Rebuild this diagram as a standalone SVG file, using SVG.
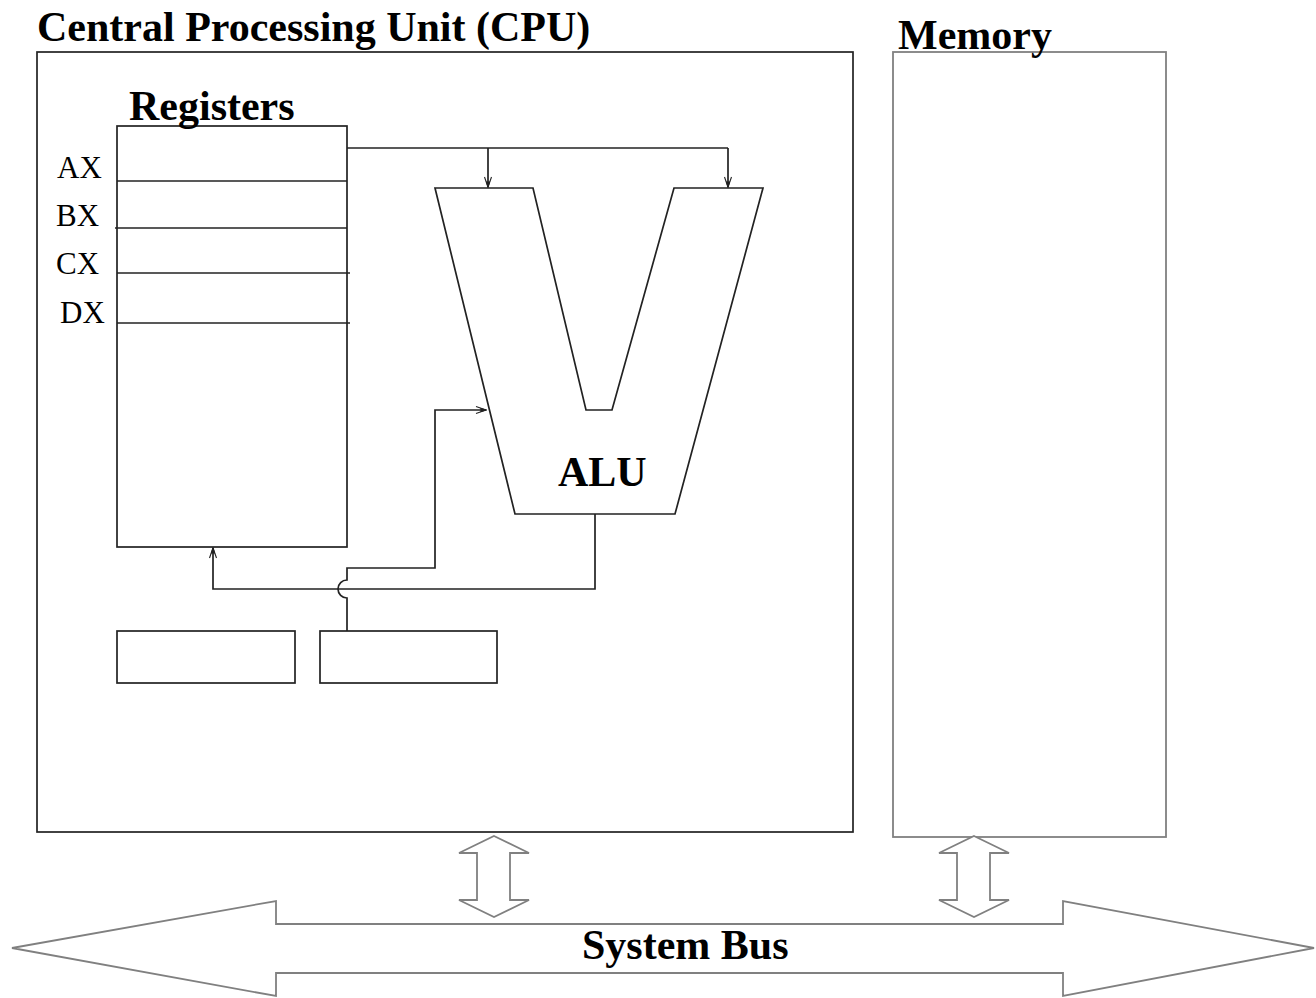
<svg xmlns="http://www.w3.org/2000/svg" width="1316" height="998" viewBox="0 0 1316 998">
  <style>
    .title { font-family: "Liberation Serif", "Times New Roman", serif; font-weight: bold; font-size: 42px; fill: #000; }
    .reg { font-family: "Liberation Serif", "Times New Roman", serif; font-size: 31px; fill: #000; }
    .line { fill: none; stroke: #222; stroke-width: 1.7; }
    .box { fill: #fff; stroke: #222; stroke-width: 1.7; }
    .gray { fill: #fff; stroke: #808080; stroke-width: 1.8; }
  </style>
  <defs>
    <marker id="arrow" viewBox="-11 -5 12 10" refX="0" refY="0" markerWidth="12" markerHeight="10" markerUnits="userSpaceOnUse" orient="auto">
      <path d="M-10,-3.5 L0,0 L-10,3.5" fill="none" stroke="#222" stroke-width="1.1"/>
      <path d="M-5,-1.5 L0,0 L-5,1.5 Z" fill="#222" stroke="#222" stroke-width="1.2"/>
    </marker>
  </defs>

  <!-- CPU enclosure -->
  <g id="cpu">
    <rect class="box" x="37" y="52" width="816" height="780"/>
    <text class="title" x="37" y="41">Central Processing Unit (CPU)</text>
  </g>

  <!-- Memory -->
  <g id="memory">
    <rect class="gray" x="893" y="52" width="273" height="785"/>
    <text class="title" x="898" y="49">Memory</text>
  </g>

  <!-- Register file -->
  <g id="registers">
    <rect class="box" x="117" y="126" width="230" height="421"/>
    <line class="line" x1="117" y1="181" x2="347" y2="181"/>
    <line class="line" x1="115" y1="228" x2="347" y2="228"/>
    <line class="line" x1="117" y1="273" x2="350" y2="273"/>
    <line class="line" x1="117" y1="323" x2="350" y2="323"/>
    <text class="title" x="129" y="120">Registers</text>
    <text class="reg" x="57" y="178">AX</text>
    <text class="reg" x="56" y="226">BX</text>
    <text class="reg" x="56" y="274">CX</text>
    <text class="reg" x="60" y="323">DX</text>
  </g>

  <!-- ALU -->
  <g id="alu">
    <polygon class="box" points="435,188 533,188 586,410 612,410 674,188 763,188 675,514 515,514"/>
    <text class="title" x="558" y="486">ALU</text>
  </g>

  <!-- Auxiliary registers -->
  <g id="box1">
    <rect class="box" x="117" y="631" width="178" height="52"/>
  </g>
  <g id="box2">
    <rect class="box" x="320" y="631" width="177" height="52"/>
  </g>

  <!-- Internal data paths -->
  <g id="connectors">
    <path class="line" d="M347,148 H728"/>
    <path class="line" d="M488,148 V187" marker-end="url(#arrow)"/>
    <path class="line" d="M728,148 V187" marker-end="url(#arrow)"/>
    <path class="line" d="M347,631 V598 A9,9 0 0 1 347,580 V568 H435 V410 H486" marker-end="url(#arrow)"/>
    <path class="line" d="M595,514 V589 H213 V548" marker-end="url(#arrow)"/>
  </g>

  <!-- Bus links -->
  <g id="cpu-link">
    <polygon class="gray" points="494,836 529,853 510,853 510,900 529,900 494,917 459,900 477,900 477,853 459,853"/>
  </g>
  <g id="memory-link">
    <polygon class="gray" points="974,836 1009,853 990,853 990,900 1009,900 974,917 939,900 957,900 957,853 939,853"/>
  </g>

  <!-- System bus -->
  <g id="system-bus">
    <polygon class="gray" points="12,948 276,901 276,924 1063,924 1063,901 1314,948 1063,996 1063,973 276,973 276,996"/>
    <text class="title" x="582" y="959">System Bus</text>
  </g>
</svg>
